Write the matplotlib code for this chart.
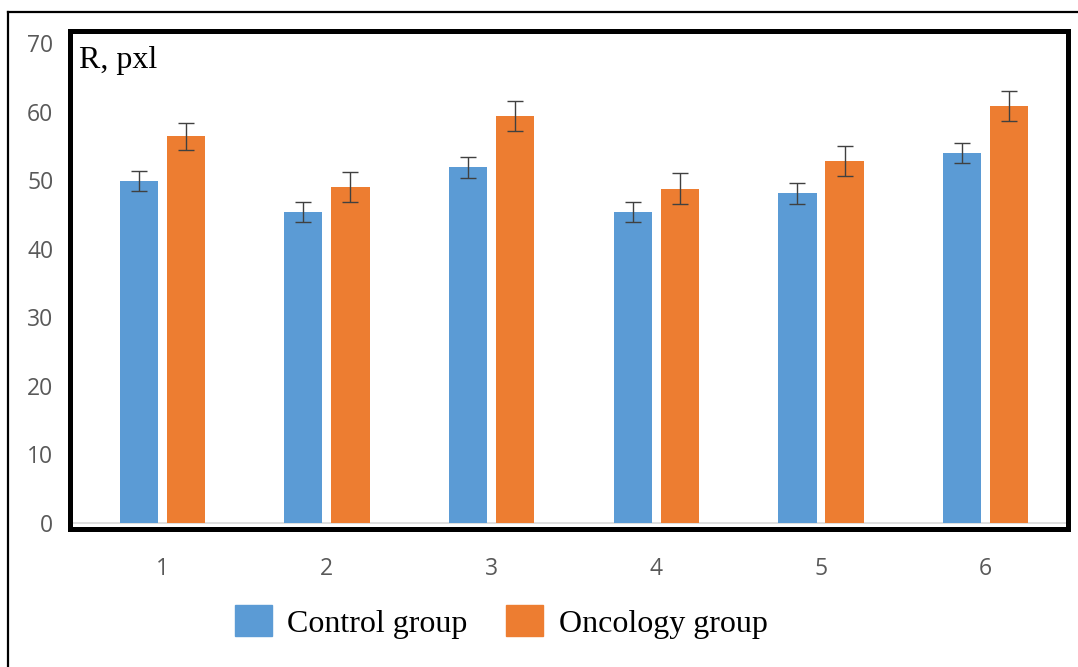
""" R, pxl comparison: control vs oncology group (grouped bars with error bars). """

import numpy as np
import matplotlib.pyplot as plt
from matplotlib.lines import Line2D
from matplotlib.patches import Patch

# Data
categories = ['1', '2', '3', '4', '5', '6']
control = [49.9, 45.4, 51.9, 45.4, 48.1, 54.0]
control_err = [1.4, 1.5, 1.5, 1.5, 1.5, 1.45]
oncology = [56.4, 49.0, 59.4, 48.8, 52.8, 60.8]
oncology_err = [2.0, 2.2, 2.2, 2.2, 2.2, 2.2]
series_names = ['Control group', 'Oncology group']
y_ticks = [0, 10, 20, 30, 40, 50, 60, 70]

BLUE = '#5B9BD5'
ORANGE = '#ED7D31'
TICK_GREY = '#595959'
SERIF = 'Liberation Serif'


def plot_bars(save='out.png'):
    fig = plt.figure(figsize=(10.78, 6.67), dpi=100)
    ax = fig.add_axes([70 / 1078, 1 - 529 / 667, 998 / 1078, (529 - 31) / 667])

    x = np.arange(len(categories))
    w, off = 0.232, 0.143
    err_kw = dict(ecolor='#404040', elinewidth=1.0, capsize=6, capthick=1.0)
    ax.bar(x - off, control, w, yerr=control_err, color=BLUE, error_kw=err_kw, zorder=2)
    ax.bar(x + off, oncology, w, yerr=oncology_err, color=ORANGE, error_kw=err_kw, zorder=2)
    ax.axhline(0, color='#d9d9d9', lw=1.2, zorder=1)

    ax.set_xlim(-0.56, 5.5)
    ax.set_ylim(-0.9, 71.8)
    ax.set_xticks(x)
    ax.set_xticklabels(categories)
    ax.set_yticks(y_ticks)
    ax.tick_params(length=0, labelsize=16.5, labelcolor=TICK_GREY)
    ax.tick_params(axis='y', pad=12)
    ax.tick_params(axis='x', pad=20)
    for lab in ax.get_xticklabels() + ax.get_yticklabels():
        lab.set_family('Open Sans')
    for sp in ax.spines.values():
        sp.set_linewidth(3.6)
        sp.set_color('black')

    ax.text(0.009, 0.94, 'R, pxl', transform=ax.transAxes, family=SERIF,
            fontsize=23, va='center', ha='left')

    # Legend below the plot
    handles = [Patch(color=BLUE), Patch(color=ORANGE)]
    fig.legend(handles, series_names, loc='center', bbox_to_anchor=(0.465, 1 - 622 / 667),
               ncol=2, frameon=False, prop={'family': SERIF, 'size': 23},
               handlelength=1.15, handleheight=1.1, handletextpad=0.5, columnspacing=1.2)

    # Outer frame (only top and left edges visible in the picture)
    fig.add_artist(Line2D([8 / 1078, 8 / 1078], [0, 1 - 12 / 667], color='black', lw=1.6))
    fig.add_artist(Line2D([8 / 1078, 1], [1 - 12 / 667, 1 - 12 / 667], color='black', lw=1.6))

    plt.savefig(save, dpi=100)


if __name__ == '__main__':
    plot_bars()
